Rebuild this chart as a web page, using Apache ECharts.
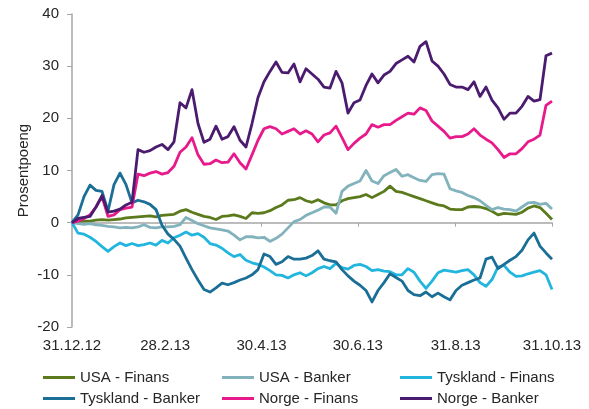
<!DOCTYPE html>
<html>
<head>
<meta charset="utf-8">
<script src="https://cdn.jsdelivr.net/npm/echarts@6/dist/echarts.min.js"></script>
<style>
  html, body { margin: 0; padding: 0; background: #ffffff; }
  #chart { width: 589px; height: 409px; }
</style>
</head>
<body>
<div id="chart"></div>
<script>
// Relative performance of financial stocks, percentage points since 31.12.12
const seriesNames = ['USA - Finans', 'USA - Banker', 'Tyskland - Finans',
                     'Tyskland - Banker', 'Norge - Finans', 'Norge - Banker'];
const seriesColors = ['#5b7a1c', '#82b3bd', '#22b6df', '#1b6f96', '#e8198b', '#4a1b6f'];

// Axis ticks (month ends, every second month)
const tickDates = [[2012, 12, 31], [2013, 2, 28], [2013, 4, 30], [2013, 6, 30], [2013, 8, 31], [2013, 10, 31]];
const tickLabels = ['31.12.12', '28.2.13', '30.4.13', '30.6.13', '31.8.13', '31.10.13'];

// Sampling: 81 observations spread over the period
const sampleCount = 81;

const usaFinans = [0,0.2,0.3,0.3,0.5,0.6,0.5,0.6,0.7,0.9,
  1.0,1.1,1.2,1.3,1.1,1.4,1.5,1.6,2.2,2.5,
  2.0,1.6,1.2,1.0,0.6,1.2,1.3,1.5,1.2,0.8,
  1.9,1.8,1.9,2.3,2.9,3.4,4.3,4.4,4.8,4.2,
  3.9,4.4,3.8,3.4,3.4,4.2,4.6,4.8,5.0,5.4,
  4.8,5.4,6.0,7.0,6.0,5.8,5.4,5.0,4.6,4.2,
  3.8,3.4,3.2,2.6,2.5,2.5,3.0,3.1,3.0,2.7,
  2.2,1.5,1.8,1.7,1.6,2.0,2.8,3.2,2.9,1.8,
  0.6];

const usaBanker = [0,-0.2,-0.3,-0.2,-0.4,-0.5,-0.7,-0.8,-1.0,-0.9,
  -1.0,-0.8,-0.4,-0.9,-1.0,-0.8,-0.8,-0.7,-0.4,1.0,
  0.4,-0.2,-0.6,-1.0,-1.2,-1.4,-1.6,-2.4,-3.3,-2.7,
  -2.7,-2.9,-2.8,-3.6,-3.0,-2.2,-1.0,0.2,0.6,1.4,
  1.9,2.4,3.0,3.0,1.8,6.0,7.0,7.5,8.0,10.0,
  8.0,7.5,9.0,9.6,10.2,8.9,9.2,8.6,8.1,7.9,
  9.2,9.4,9.3,6.5,6.1,5.8,5.2,4.8,4.2,3.3,
  2.5,2.9,2.6,2.5,2.2,3.0,3.8,3.9,3.5,3.7,
  2.6];

const tysklandFinans = [0,-2.0,-2.2,-2.8,-3.6,-4.6,-5.5,-4.6,-3.9,-4.4,
  -4.0,-4.4,-4.2,-3.9,-4.3,-3.4,-3.9,-2.9,-2.4,-1.8,
  -2.4,-2.1,-2.8,-4.0,-4.3,-4.9,-5.8,-6.5,-6.1,-7.2,
  -7.7,-8.0,-8.5,-9.2,-10.0,-10.1,-10.6,-10.0,-9.6,-10.2,
  -9.6,-8.8,-8.4,-8.8,-7.8,-8.6,-8.9,-8.2,-8.0,-8.4,
  -9.2,-9.0,-9.3,-9.4,-10.0,-10.0,-8.8,-9.5,-11.2,-12.6,
  -11.2,-9.6,-9.1,-9.3,-9.5,-9.2,-9.0,-10.0,-11.5,-12.2,
  -10.9,-8.5,-8.2,-9.5,-10.3,-10.2,-9.8,-9.5,-9.2,-10.0,
  -12.8];

const tysklandBanker = [0,1.5,5.0,7.2,6.2,6.0,2.2,7.3,9.5,7.3,
  3.8,4.3,4.0,3.5,2.5,-0.5,-2.2,-3.2,-4.5,-6.8,
  -9.0,-11.0,-12.8,-13.3,-12.5,-11.6,-11.9,-11.5,-11.0,-10.6,
  -10.0,-9.0,-6.0,-6.5,-8.0,-7.5,-6.5,-7.0,-7.0,-6.8,
  -6.3,-5.4,-7.0,-7.3,-7.5,-9.0,-10.2,-11.2,-12.0,-13.0,
  -15.2,-13.0,-11.5,-9.8,-10.5,-11.2,-13.0,-13.8,-14.0,-13.3,
  -14.2,-13.5,-14.2,-14.8,-13.0,-12.0,-11.5,-11.0,-10.6,-7.0,
  -6.6,-8.8,-8.0,-7.2,-6.5,-5.3,-3.3,-2.0,-4.5,-5.8,
  -7.0];

const norgeFinans = [0,0.3,0.8,1.5,3.0,5.0,1.2,1.5,2.5,2.8,
  3.0,9.3,9.0,9.5,9.8,9.3,9.6,10.8,13.5,14.5,
  16.3,13.0,11.2,11.3,12.0,11.5,11.6,13.2,11.5,10.3,
  13.0,15.8,18.0,18.4,18.0,17.0,17.5,18.0,17.0,17.6,
  17.0,15.5,16.8,17.2,18.5,16.3,14.0,15.2,16.2,17.0,
  18.8,18.3,18.8,18.8,19.6,20.3,21.0,20.8,22.0,21.5,
  19.5,18.5,17.5,16.2,16.5,16.5,17.0,18.0,16.8,16.0,
  15.3,14.0,12.5,13.2,13.2,14.2,15.5,16.0,16.8,22.5,
  23.3];

const norgeBanker = [0,0.8,1.0,1.2,3.0,5.2,2.0,2.2,2.6,3.4,
  3.9,14.0,13.5,13.8,14.5,15.0,14.0,15.5,23.0,22.0,
  25.5,19.0,15.4,16.0,18.5,16.0,16.5,18.4,15.8,14.5,
  19.0,24.0,27.0,29.0,30.8,28.8,28.7,30.4,27.0,29.5,
  28.5,27.5,26.0,25.8,29.0,26.8,21.0,23.0,23.5,26.3,
  28.5,26.8,28.3,29.0,30.5,31.2,31.9,30.8,33.8,34.7,
  31.0,30.0,28.5,26.5,26.0,26.0,25.5,27.0,24.2,26.0,
  23.5,22.0,19.8,21.0,21.0,22.3,24.2,23.3,23.6,32.0,
  32.5];

const seriesValues = [usaFinans, usaBanker, tysklandFinans, tysklandBanker, norgeFinans, norgeBanker];

// The x axis counts days from the first date
const DAY = 86400000;
const toTime = d => Date.UTC(d[0], d[1] - 1, d[2]);
const startTime = toTime(tickDates[0]);
const tickDays = tickDates.map(d => Math.round((toTime(d) - startTime) / DAY));
const periodDays = tickDays[tickDays.length - 1];
const sampleDays = Array.from({ length: sampleCount },
  (_, i) => i * periodDays / (sampleCount - 1));

const fontFamily = '"Liberation Sans", Arial, sans-serif';
const textColor = '#262626';
const axisColor = '#a6a6a6';

function tickLabel(value) {
  let best = 0;
  tickDays.forEach((t, i) => {
    if (Math.abs(t - value) < Math.abs(tickDays[best] - value)) best = i;
  });
  return tickLabels[best];
}

const legendBase = {
  orient: 'vertical',
  top: 370,
  padding: 0,
  itemGap: 6,
  itemWidth: 32,
  itemHeight: 3,
  icon: 'rect',
  selectedMode: false,
  textStyle: { fontFamily, fontSize: 15, color: textColor }
};

const chart = echarts.init(document.getElementById('chart'), null, { renderer: 'canvas' });
chart.setOption({
  animation: false,
  backgroundColor: '#ffffff',
  grid: { left: 72, right: 37, top: 14, bottom: 82, containLabel: false },
  legend: [
    Object.assign({ left: 43, data: [seriesNames[0], seriesNames[3]] }, legendBase),
    Object.assign({ left: 222, data: [seriesNames[1], seriesNames[4]] }, legendBase),
    Object.assign({ left: 400, data: [seriesNames[2], seriesNames[5]] }, legendBase)
  ],
  xAxis: [
    {
      type: 'value',
      min: 0,
      max: periodDays,
      axisLine: { show: true, onZero: true, lineStyle: { color: axisColor, width: 1.5 } },
      axisTick: { show: true, customValues: tickDays, length: 4, lineStyle: { color: axisColor, width: 1 } },
      axisLabel: { show: false },
      splitLine: { show: false }
    },
    {
      type: 'value',
      min: 0,
      max: periodDays,
      position: 'bottom',
      axisLine: { show: false, onZero: false },
      axisTick: { show: false },
      axisLabel: {
        show: true,
        customValues: tickDays,
        formatter: tickLabel,
        fontFamily, fontSize: 15, color: textColor, margin: 11
      },
      splitLine: { show: false }
    }
  ],
  yAxis: {
    type: 'value',
    min: -20,
    max: 40,
    interval: 10,
    name: 'Prosentpoeng',
    nameLocation: 'middle',
    nameGap: 41,
    nameMoveOverlap: false,
    nameTextStyle: { fontFamily, fontSize: 15, color: textColor },
    axisLine: { show: true, lineStyle: { color: axisColor, width: 1.5 } },
    axisTick: { show: true, length: 5, lineStyle: { color: axisColor } },
    axisLabel: { fontFamily, fontSize: 15, color: textColor, margin: 13 },
    splitLine: { show: false }
  },
  series: seriesNames.map((name, k) => ({
    name,
    type: 'line',
    xAxisIndex: 0,
    showSymbol: false,
    symbol: 'none',
    color: seriesColors[k],
    lineStyle: { width: 2.8, color: seriesColors[k], join: 'round' },
    data: seriesValues[k].map((v, i) => [sampleDays[i], v])
  }))
});
</script>
</body>
</html>
